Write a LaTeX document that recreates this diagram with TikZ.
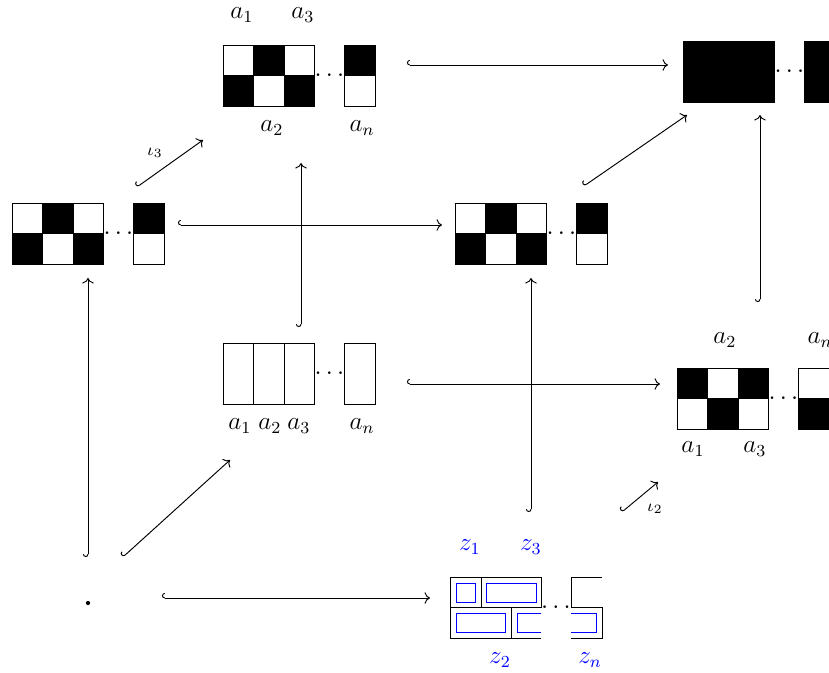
\documentclass[tikz,border=0pt]{standalone}
\usetikzlibrary{arrows.meta}
\newcommand\ckb[9]{%
\begin{scope}[shift={(#1,#2)}]
 \draw[#4] (0,0) rectangle (30.5,30.5);
 \draw[#5] (30.5,0) rectangle (61,30.5);
 \draw[#6] (61,0) rectangle (91.5,30.5);
 \draw[#7] (0,30.5) rectangle (30.5,61);
 \draw[#8] (30.5,30.5) rectangle (61,61);
 \draw[#9] (61,30.5) rectangle (91.5,61);
 \draw[#5] (121.5,0) rectangle (152,30.5);
 \draw[#8] (121.5,30.5) rectangle (152,61);
 \node[dts] (#3dots) at (106.5,36.5) {$\cdots$};
\end{scope}}
\begin{document}
\begin{tikzpicture}[x=0.474pt,y=-0.474pt,
  cw/.style={draw=black,fill=white,line width=0.45pt},
  cb/.style={draw=black,fill=black,line width=0.45pt},
  brick/.style={draw=black,line width=0.45pt},
  inbox/.style={draw=blue,line width=0.45pt},
  hk/.style={{Hooks[right]}-{Computer Modern Rightarrow}, line width=0.45pt},
  lbl/.style={font=\fontsize{12}{14}\selectfont, inner sep=0pt},
  zl/.style={lbl, text=blue},
  il/.style={font=\fontsize{8.5}{10}\selectfont, inner sep=0pt},
  dts/.style={font=\fontsize{12}{14}\selectfont, inner sep=0pt, anchor=base}]
\useasboundingbox (0,0) rectangle (829,673);

% checker blocks
\ckb{223}{45}{A}{cw}{cb}{cw}{cb}{cw}{cb}
\ckb{683}{41}{B}{cb}{cb}{cb}{cb}{cb}{cb}
\ckb{12}{203}{C}{cw}{cb}{cw}{cb}{cw}{cb}
\ckb{455}{203}{D}{cw}{cb}{cw}{cb}{cw}{cb}
\ckb{677}{368}{F}{cb}{cw}{cb}{cw}{cb}{cw}

% strips block E
\begin{scope}[shift={(223,343)}]
 \draw[cw] (0,0) rectangle (30.5,61);
 \draw[cw] (30.5,0) rectangle (61,61);
 \draw[cw] (61,0) rectangle (91.5,61);
 \draw[cw] (121.5,0) rectangle (152,61);
 \node[dts] (Edots) at (106.5,36.5) {$\cdots$};
\end{scope}

% brick block G
\draw[brick] (450,577) rectangle (481,607);
\draw[brick] (481,577) rectangle (541,607);
\draw[brick] (450,607) rectangle (511,638);
\draw[brick] (541,607) -- (511,607) -- (511,638) -- (541,638);
\draw[brick] (602,577) -- (571,577) -- (571,607) -- (602,607);
\draw[brick] (571,607) -- (602,607) -- (602,638) -- (571,638);
\draw[inbox] (456,583) rectangle (475,602);
\draw[inbox] (486,583) rectangle (536,602);
\draw[inbox] (456,613) rectangle (505,632);
\draw[inbox] (541,613) -- (517,613) -- (517,632) -- (541,632);
\draw[inbox] (571,613) -- (596,613) -- (596,632) -- (571,632);
\node[dts] (Gdots) at (556,613) {$\cdots$};

% point
\node[circle, fill=black, inner sep=0pt, minimum size=2pt] (pt) at (88,603) {};

% labels
\node[lbl] (A1) at (242,15) {$a_1$};
\node[lbl] (A3) at (303,15) {$a_3$};
\node[lbl] (A2) at (272,128) {$a_2$};
\node[lbl] (An) at (362,128) {$a_n$};
\node[lbl] (E1) at (240,426) {$a_1$};
\node[lbl] (E2) at (270,426) {$a_2$};
\node[lbl] (E3) at (299,426) {$a_3$};
\node[lbl] (En) at (362,426) {$a_n$};
\node[lbl] (F2) at (725,340) {$a_2$};
\node[lbl] (Fn) at (820,340) {$a_n$};
\node[lbl] (F1) at (693,449) {$a_1$};
\node[lbl] (F3) at (755,449) {$a_3$};
\node[zl] (Z1) at (470,547) {$z_1$};
\node[zl] (Z3) at (531,547) {$z_3$};
\node[zl] (Z2) at (500,660) {$z_2$};
\node[zl] (Zn) at (590,660) {$z_n$};
\node[il] (i3) at (155,153) {$\iota_3$};
\node[il] (i2) at (655,509) {$\iota_2$};

% arrow end points
\coordinate (s1) at (407,65);  \coordinate (e1) at (668,65);
\coordinate (s2) at (178,225); \coordinate (e2) at (442,225);
\coordinate (s3) at (407,384); \coordinate (e3) at (660,384);
\coordinate (s4) at (162,598); \coordinate (e4) at (430,598);
\coordinate (s5) at (88,557);  \coordinate (e5) at (88,278);
\coordinate (s6) at (123,557); \coordinate (e6) at (230,460);
\coordinate (s7) at (301,327); \coordinate (e7) at (301,163);
\coordinate (s8) at (531,512); \coordinate (e8) at (531,278);
\coordinate (s9) at (760,302); \coordinate (e9) at (760,115);
\coordinate (s10) at (137,187); \coordinate (e10) at (203,140);
\coordinate (s11) at (584,186); \coordinate (e11) at (687,115);
\coordinate (s12) at (622,512); \coordinate (e12) at (658,482);

\foreach \k in {1,...,12} { \draw[hk] (s\k) -- (e\k); }
\end{tikzpicture}
\end{document}
